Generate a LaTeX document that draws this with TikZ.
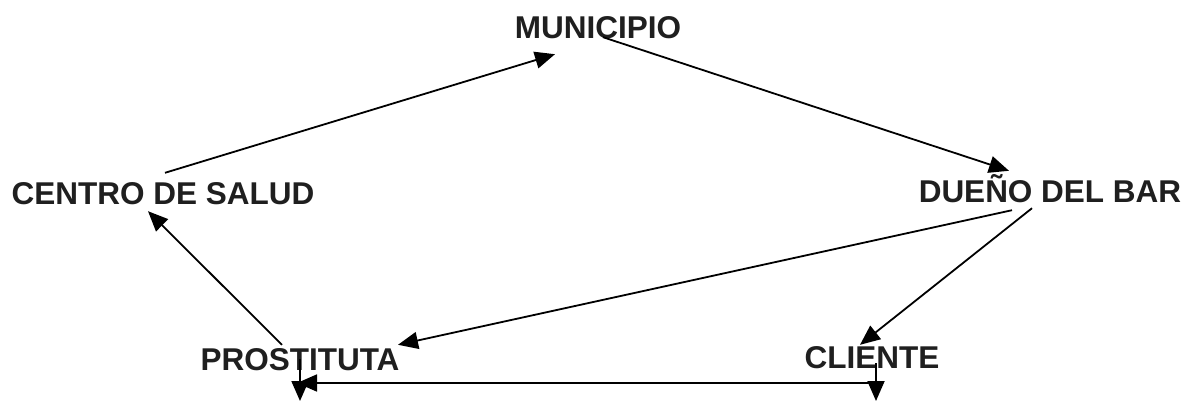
\documentclass[tikz,border=0pt]{standalone}
\usepackage{fontspec}
\setmainfont{Liberation Sans}
\usetikzlibrary{arrows.meta}
\begin{document}
\begin{tikzpicture}[x=1pt,y=-1pt,
  lbl/.style={font=\bfseries\fontsize{31.5}{31.5}\selectfont, text=black!88, inner sep=0pt, text height=22pt, text depth=0pt, anchor=center},
  conn/.style={line width=1.8pt, -{Triangle[length=20pt,width=17pt]}}]
\useasboundingbox[fill=white] (0,0) rectangle (1194,402);
\node[lbl] (mun) at (598,27) {MUNICIPIO};
\node[lbl] (cs) at (163,193) {CENTRO DE SALUD};
\node[lbl] (db) at (1050,191) {DUEÑO DEL BAR};
\node[lbl] (pr) at (300,359) {PROSTITUTA};
\node[lbl] (cl) at (872,357) {CLIENTE};
\coordinate (prb) at (300,401);
\coordinate (clb) at (876,401);
\coordinate (prh) at (297,383);
\coordinate (clh) at (876,383);
\draw[conn] ([shift={(2,-9)}]cs.north) -- ([shift={(-43,16)}]mun.south);
\draw[conn] ([shift={(5,-1)}]mun.south) -- ([shift={(-41,-9)}]db.north);
\draw[conn] ([shift={(-38,8)}]db.south) -- ([shift={(98,-3)}]pr.north);
\draw[conn] ([shift={(-18,6)}]db.south) -- ([shift={(-12,-1)}]cl.north);
\draw[conn] ([shift={(-18,-3)}]pr.north) -- ([shift={(-15,7)}]cs.south);
\draw[conn] (pr.center) -- (prb);
\draw[conn] ([shift={(4,6)}]cl.center) -- (clb);
\draw[conn] (clh) -- (prh);
\end{tikzpicture}
\end{document}
